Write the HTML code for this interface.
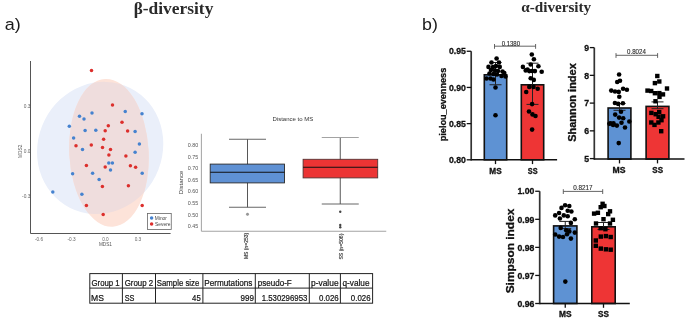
<!DOCTYPE html>
<html><head><meta charset="utf-8"><title>diversity figure</title>
<style>
html,body{margin:0;padding:0;background:#fff;width:685px;height:319px;overflow:hidden;}
svg{display:block;will-change:transform;filter:blur(0.3px);font-family:"Liberation Sans",sans-serif;}
</style></head><body>
<svg width="685" height="319" viewBox="0 0 685 319"><text x="4.76" y="30.20" font-size="17.20" text-anchor="start" fill="#1a1a1a" font-family="Liberation Sans" textLength="16.00" lengthAdjust="spacingAndGlyphs">a)</text>
<text x="422.08" y="29.80" font-size="17.20" text-anchor="start" fill="#1a1a1a" font-family="Liberation Sans" textLength="15.83" lengthAdjust="spacingAndGlyphs">b)</text>
<text x="133.66" y="13.50" font-size="17.70" text-anchor="start" fill="#2a2a2a" font-family="Liberation Serif" font-weight="bold" textLength="79.68" lengthAdjust="spacingAndGlyphs">β-diversity</text>
<text x="521.24" y="11.80" font-size="15.20" text-anchor="start" fill="#2a2a2a" font-family="Liberation Serif" font-weight="bold" textLength="69.98" lengthAdjust="spacingAndGlyphs">α-diversity</text>
<defs><clipPath id="cb"><ellipse cx="100.17" cy="147.97" rx="62.09" ry="67.11" transform="rotate(26.53 100.17 147.97)" fill="#000"/></clipPath></defs>
<ellipse cx="100.17" cy="147.97" rx="62.09" ry="67.11" transform="rotate(26.53 100.17 147.97)" fill="#eaeffa"/>
<ellipse cx="108.97" cy="152.86" rx="39.69" ry="74.04" transform="rotate(-3.01 108.97 152.86)" fill="#fde3d9"/>
<g clip-path="url(#cb)"><ellipse cx="108.97" cy="152.86" rx="39.69" ry="74.04" transform="rotate(-3.01 108.97 152.86)" fill="#efdddd"/></g>
<circle cx="91.5" cy="70.5" r="1.75" fill="#dc2f2c"/>
<circle cx="112.5" cy="105" r="1.75" fill="#dc2f2c"/>
<circle cx="92" cy="113" r="1.75" fill="#4582cf"/>
<circle cx="125.25" cy="111.5" r="1.75" fill="#4582cf"/>
<circle cx="142" cy="113.75" r="1.75" fill="#4582cf"/>
<circle cx="79.5" cy="116.2" r="1.75" fill="#4582cf"/>
<circle cx="84" cy="119" r="1.75" fill="#4582cf"/>
<circle cx="122" cy="122.2" r="1.75" fill="#dc2f2c"/>
<circle cx="108.3" cy="125.8" r="1.75" fill="#dc2f2c"/>
<circle cx="69.3" cy="126.3" r="1.75" fill="#4582cf"/>
<circle cx="85.1" cy="130.6" r="1.75" fill="#4582cf"/>
<circle cx="95.8" cy="130.3" r="1.75" fill="#4582cf"/>
<circle cx="105.2" cy="130.7" r="1.75" fill="#dc2f2c"/>
<circle cx="127.6" cy="131.1" r="1.75" fill="#dc2f2c"/>
<circle cx="135.1" cy="131.6" r="1.75" fill="#4582cf"/>
<circle cx="73.6" cy="138" r="1.75" fill="#4582cf"/>
<circle cx="103.6" cy="139.3" r="1.75" fill="#dc2f2c"/>
<circle cx="139.4" cy="144.1" r="1.75" fill="#4582cf"/>
<circle cx="76" cy="145.8" r="1.75" fill="#dc2f2c"/>
<circle cx="91.3" cy="145" r="1.75" fill="#dc2f2c"/>
<circle cx="102.5" cy="147.5" r="1.75" fill="#dc2f2c"/>
<circle cx="82.5" cy="149.4" r="1.75" fill="#4582cf"/>
<circle cx="110.5" cy="149.4" r="1.75" fill="#dc2f2c"/>
<circle cx="135.1" cy="152.3" r="1.75" fill="#4582cf"/>
<circle cx="108.9" cy="155.1" r="1.75" fill="#dc2f2c"/>
<circle cx="125.9" cy="155.9" r="1.75" fill="#dc2f2c"/>
<circle cx="108.8" cy="163.1" r="1.75" fill="#4582cf"/>
<circle cx="112.4" cy="163.1" r="1.75" fill="#4582cf"/>
<circle cx="86.4" cy="165.6" r="1.75" fill="#dc2f2c"/>
<circle cx="105.2" cy="167.1" r="1.75" fill="#dc2f2c"/>
<circle cx="130.4" cy="165.8" r="1.75" fill="#dc2f2c"/>
<circle cx="135.6" cy="167.2" r="1.75" fill="#dc2f2c"/>
<circle cx="110.5" cy="170.1" r="1.75" fill="#4582cf"/>
<circle cx="72.6" cy="173.8" r="1.75" fill="#4582cf"/>
<circle cx="92.6" cy="173.2" r="1.75" fill="#4582cf"/>
<circle cx="142.2" cy="173.2" r="1.75" fill="#4582cf"/>
<circle cx="99.1" cy="179.5" r="1.75" fill="#4582cf"/>
<circle cx="102.4" cy="186.4" r="1.75" fill="#dc2f2c"/>
<circle cx="128.4" cy="185.8" r="1.75" fill="#dc2f2c"/>
<circle cx="52.8" cy="192" r="1.75" fill="#4582cf"/>
<circle cx="81.9" cy="194.2" r="1.75" fill="#4582cf"/>
<circle cx="86.4" cy="205.5" r="1.75" fill="#dc2f2c"/>
<circle cx="142.2" cy="205.5" r="1.75" fill="#dc2f2c"/>
<circle cx="103.2" cy="214.6" r="1.75" fill="#dc2f2c"/>
<line x1="30.5" y1="61" x2="30.5" y2="233.5" stroke="#555" stroke-width="1"/>
<line x1="30.5" y1="233.5" x2="170.6" y2="233.5" stroke="#555" stroke-width="1"/>
<text x="30.40" y="107.95" font-size="4.80" text-anchor="end" fill="#666" font-family="Liberation Sans">0.3</text>
<text x="30.40" y="153.45" font-size="4.80" text-anchor="end" fill="#666" font-family="Liberation Sans">0.0</text>
<text x="30.40" y="198.45" font-size="4.80" text-anchor="end" fill="#666" font-family="Liberation Sans">-0.3</text>
<text x="39.00" y="240.50" font-size="4.70" text-anchor="middle" fill="#666" font-family="Liberation Sans">-0.6</text>
<text x="71.50" y="240.50" font-size="4.70" text-anchor="middle" fill="#666" font-family="Liberation Sans">-0.3</text>
<text x="105.40" y="240.50" font-size="4.70" text-anchor="middle" fill="#666" font-family="Liberation Sans">0.0</text>
<text x="137.90" y="240.50" font-size="4.70" text-anchor="middle" fill="#666" font-family="Liberation Sans">0.3</text>
<text x="105.40" y="246.20" font-size="4.70" text-anchor="middle" fill="#555" font-family="Liberation Sans">MDS1</text>
<text x="0" y="0" transform="translate(21.56 151.30) rotate(-90)" font-size="4.80" text-anchor="middle" fill="#555" font-family="Liberation Sans" textLength="13.21" lengthAdjust="spacingAndGlyphs">MDS2</text>
<rect x="147.5" y="213.4" width="23.75" height="16" fill="#fff" stroke="#666" stroke-width="0.8"/>
<circle cx="151.6" cy="218.1" r="1.75" fill="#4582cf"/>
<circle cx="151.6" cy="224" r="1.75" fill="#dc2f2c"/>
<text x="154.84" y="220.22" font-size="4.90" text-anchor="start" fill="#444" font-family="Liberation Sans" textLength="12.02" lengthAdjust="spacingAndGlyphs">Minor</text>
<text x="155.00" y="226.22" font-size="4.90" text-anchor="start" fill="#444" font-family="Liberation Sans" textLength="15.50" lengthAdjust="spacingAndGlyphs">Severe</text>
<text x="292.92" y="121.48" font-size="6.00" text-anchor="middle" fill="#333" font-family="Liberation Sans" textLength="40.78" lengthAdjust="spacingAndGlyphs">Distance to MS</text>
<line x1="201.4" y1="133.75" x2="201.4" y2="231.25" stroke="#999" stroke-width="0.9"/>
<line x1="201.4" y1="231.25" x2="386.25" y2="231.25" stroke="#999" stroke-width="0.9"/>
<text x="198.20" y="147.00" font-size="5.35" text-anchor="end" fill="#555" font-family="Liberation Sans">0.80</text>
<text x="198.20" y="158.60" font-size="5.35" text-anchor="end" fill="#555" font-family="Liberation Sans">0.75</text>
<text x="198.20" y="170.20" font-size="5.35" text-anchor="end" fill="#555" font-family="Liberation Sans">0.70</text>
<text x="198.20" y="181.80" font-size="5.35" text-anchor="end" fill="#555" font-family="Liberation Sans">0.65</text>
<text x="198.20" y="193.40" font-size="5.35" text-anchor="end" fill="#555" font-family="Liberation Sans">0.60</text>
<text x="198.20" y="205.00" font-size="5.35" text-anchor="end" fill="#555" font-family="Liberation Sans">0.55</text>
<text x="198.20" y="216.60" font-size="5.35" text-anchor="end" fill="#555" font-family="Liberation Sans">0.50</text>
<text x="198.20" y="228.20" font-size="5.35" text-anchor="end" fill="#555" font-family="Liberation Sans">0.45</text>
<text x="0" y="0" transform="translate(182.90 182.46) rotate(-90)" font-size="6.00" text-anchor="middle" fill="#444" font-family="Liberation Sans" textLength="23.62" lengthAdjust="spacingAndGlyphs">Distance</text>
<line x1="247.5" y1="139.25" x2="247.5" y2="207.25" stroke="#444" stroke-width="0.9"/>
<line x1="229" y1="139.25" x2="266" y2="139.25" stroke="#555" stroke-width="0.9"/>
<line x1="229" y1="207.25" x2="266" y2="207.25" stroke="#555" stroke-width="0.9"/>
<rect x="210.2" y="164.1" width="74.3" height="18.8" fill="#5f91d4" stroke="#2a2a2a" stroke-width="0.9"/>
<line x1="210.2" y1="172.3" x2="284.5" y2="172.3" stroke="#111" stroke-width="1.1"/>
<circle cx="247.5" cy="214.3" r="1.2" fill="#999" stroke="#777" stroke-width="0.4"/>
<line x1="340.25" y1="137.5" x2="340.25" y2="204" stroke="#444" stroke-width="0.9"/>
<line x1="321.75" y1="137.5" x2="358.75" y2="137.5" stroke="#999" stroke-width="0.9"/>
<line x1="321.75" y1="204" x2="358.75" y2="204" stroke="#555" stroke-width="0.9"/>
<rect x="303.1" y="159.3" width="74.6" height="18.6" fill="#ec3434" stroke="#553333" stroke-width="0.9"/>
<line x1="303.1" y1="167.2" x2="377.7" y2="167.2" stroke="#111" stroke-width="1.1"/>
<circle cx="340.25" cy="211.75" r="1.2" fill="#444"/>
<circle cx="340.25" cy="225" r="1.2" fill="#444"/>
<circle cx="340.25" cy="227.2" r="1.2" fill="#444"/>
<text x="0" y="0" transform="translate(247.56 259.04) rotate(-90)" font-size="4.60" text-anchor="start" fill="#333" font-family="Liberation Sans" textLength="26.27" lengthAdjust="spacingAndGlyphs" stroke="#333" stroke-width="0.15">MS (n=253)</text>
<text x="0" y="0" transform="translate(342.60 259.56) rotate(-90)" font-size="4.60" text-anchor="start" fill="#333" font-family="Liberation Sans" textLength="25.92" lengthAdjust="spacingAndGlyphs" stroke="#333" stroke-width="0.15">SS (n=506)</text>
<rect x="89.8" y="273.6" width="282.8" height="29.599999999999966" fill="#fff" stroke="#222" stroke-width="1"/>
<line x1="89.8" y1="288.1" x2="372.6" y2="288.1" stroke="#222" stroke-width="1"/>
<line x1="122.4" y1="273.6" x2="122.4" y2="303.2" stroke="#222" stroke-width="1"/>
<line x1="155.5" y1="273.6" x2="155.5" y2="303.2" stroke="#222" stroke-width="1"/>
<line x1="202.9" y1="273.6" x2="202.9" y2="303.2" stroke="#222" stroke-width="1"/>
<line x1="255.3" y1="273.6" x2="255.3" y2="303.2" stroke="#222" stroke-width="1"/>
<line x1="309.3" y1="273.6" x2="309.3" y2="303.2" stroke="#222" stroke-width="1"/>
<line x1="340.4" y1="273.6" x2="340.4" y2="303.2" stroke="#222" stroke-width="1"/>
<text x="91.50" y="285.80" font-size="8.40" text-anchor="start" fill="#111" font-family="Liberation Sans" textLength="28.21" lengthAdjust="spacingAndGlyphs" stroke="#111" stroke-width="0.2">Group 1</text>
<text x="124.66" y="285.80" font-size="8.40" text-anchor="start" fill="#111" font-family="Liberation Sans" textLength="28.44" lengthAdjust="spacingAndGlyphs" stroke="#111" stroke-width="0.2">Group 2</text>
<text x="156.80" y="285.80" font-size="8.40" text-anchor="start" fill="#111" font-family="Liberation Sans" textLength="42.45" lengthAdjust="spacingAndGlyphs" stroke="#111" stroke-width="0.2">Sample size</text>
<text x="204.28" y="285.80" font-size="8.40" text-anchor="start" fill="#111" font-family="Liberation Sans" textLength="48.13" lengthAdjust="spacingAndGlyphs" stroke="#111" stroke-width="0.2">Permutations</text>
<text x="257.86" y="285.80" font-size="8.40" text-anchor="start" fill="#111" font-family="Liberation Sans" textLength="33.90" lengthAdjust="spacingAndGlyphs" stroke="#111" stroke-width="0.2">pseudo-F</text>
<text x="310.98" y="285.80" font-size="8.40" text-anchor="start" fill="#111" font-family="Liberation Sans" textLength="27.61" lengthAdjust="spacingAndGlyphs" stroke="#111" stroke-width="0.2">p-value</text>
<text x="342.52" y="285.80" font-size="8.40" text-anchor="start" fill="#111" font-family="Liberation Sans" textLength="27.02" lengthAdjust="spacingAndGlyphs" stroke="#111" stroke-width="0.2">q-value</text>
<text x="91.14" y="300.80" font-size="8.40" text-anchor="start" fill="#111" font-family="Liberation Sans" textLength="12.87" lengthAdjust="spacingAndGlyphs" stroke="#111" stroke-width="0.2">MS</text>
<text x="124.74" y="300.80" font-size="8.40" text-anchor="start" fill="#111" font-family="Liberation Sans" textLength="9.76" lengthAdjust="spacingAndGlyphs" stroke="#111" stroke-width="0.2">SS</text>
<text x="192.10" y="300.80" font-size="8.40" text-anchor="start" fill="#111" font-family="Liberation Sans" textLength="8.62" lengthAdjust="spacingAndGlyphs" stroke="#111" stroke-width="0.2">45</text>
<text x="240.54" y="300.80" font-size="8.40" text-anchor="start" fill="#111" font-family="Liberation Sans" textLength="13.41" lengthAdjust="spacingAndGlyphs" stroke="#111" stroke-width="0.2">999</text>
<text x="261.72" y="300.80" font-size="8.40" text-anchor="start" fill="#111" font-family="Liberation Sans" textLength="45.64" lengthAdjust="spacingAndGlyphs" stroke="#111" stroke-width="0.2">1.530296953</text>
<text x="319.06" y="300.80" font-size="8.40" text-anchor="start" fill="#111" font-family="Liberation Sans" textLength="19.70" lengthAdjust="spacingAndGlyphs" stroke="#111" stroke-width="0.2">0.026</text>
<text x="350.86" y="300.80" font-size="8.40" text-anchor="start" fill="#111" font-family="Liberation Sans" textLength="19.72" lengthAdjust="spacingAndGlyphs" stroke="#111" stroke-width="0.2">0.026</text>
<rect x="484.3" y="74.8" width="22.4" height="85.00000000000001" fill="#5e92d3" stroke="#111" stroke-width="1.6"/>
<rect x="521.3" y="84.8" width="22.4" height="75.00000000000001" fill="#ee3535" stroke="#111" stroke-width="1.6"/>
<line x1="495.5" y1="62.5" x2="495.5" y2="84.75" stroke="#222" stroke-width="1"/>
<line x1="489.5" y1="62.5" x2="501.5" y2="62.5" stroke="#222" stroke-width="1"/>
<line x1="489.5" y1="84.75" x2="501.5" y2="84.75" stroke="#222" stroke-width="1"/>
<circle cx="496.6" cy="58.5" r="2.3" fill="#000"/>
<circle cx="491.5" cy="62.5" r="2.3" fill="#000"/>
<circle cx="499" cy="62.5" r="2.3" fill="#000"/>
<circle cx="488.5" cy="66.9" r="2.3" fill="#000"/>
<circle cx="499.75" cy="66.9" r="2.3" fill="#000"/>
<circle cx="493" cy="67" r="2.3" fill="#000"/>
<circle cx="496" cy="66" r="2.3" fill="#000"/>
<circle cx="491" cy="70" r="2.3" fill="#000"/>
<circle cx="495" cy="70.5" r="2.3" fill="#000"/>
<circle cx="498" cy="71" r="2.3" fill="#000"/>
<circle cx="502.5" cy="71.5" r="2.3" fill="#000"/>
<circle cx="489.5" cy="73.5" r="2.3" fill="#000"/>
<circle cx="493.5" cy="74" r="2.3" fill="#000"/>
<circle cx="497" cy="74.5" r="2.3" fill="#000"/>
<circle cx="504.3" cy="73" r="2.3" fill="#000"/>
<circle cx="486.5" cy="78.5" r="2.3" fill="#000"/>
<circle cx="490.5" cy="78.5" r="2.3" fill="#000"/>
<circle cx="493.5" cy="79.5" r="2.3" fill="#000"/>
<circle cx="501.5" cy="76" r="2.3" fill="#000"/>
<circle cx="505.5" cy="76.5" r="2.3" fill="#000"/>
<circle cx="495.5" cy="87.5" r="2.3" fill="#000"/>
<circle cx="495.5" cy="115.3" r="2.3" fill="#000"/>
<line x1="532.5" y1="63.2" x2="532.5" y2="104.4" stroke="#222" stroke-width="1"/>
<line x1="526.5" y1="63.2" x2="538.5" y2="63.2" stroke="#222" stroke-width="1"/>
<line x1="526.5" y1="104.4" x2="538.5" y2="104.4" stroke="#222" stroke-width="1"/>
<circle cx="531.8" cy="54.5" r="2.3" fill="#000"/>
<circle cx="533.9" cy="59.2" r="2.3" fill="#000"/>
<circle cx="530.7" cy="64.5" r="2.3" fill="#000"/>
<circle cx="522.9" cy="66.9" r="2.3" fill="#000"/>
<circle cx="538.4" cy="66.2" r="2.3" fill="#000"/>
<circle cx="525.7" cy="70.4" r="2.3" fill="#000"/>
<circle cx="529.3" cy="71.1" r="2.3" fill="#000"/>
<circle cx="534.9" cy="71.1" r="2.3" fill="#000"/>
<circle cx="541.7" cy="71.8" r="2.3" fill="#000"/>
<circle cx="527.5" cy="69.5" r="2.3" fill="#000"/>
<circle cx="532" cy="71" r="2.3" fill="#000"/>
<circle cx="530.7" cy="78.2" r="2.3" fill="#000"/>
<circle cx="533.8" cy="79.9" r="2.3" fill="#000"/>
<circle cx="529.3" cy="86.9" r="2.3" fill="#000"/>
<circle cx="533.5" cy="86.9" r="2.3" fill="#000"/>
<circle cx="537.7" cy="88.7" r="2.3" fill="#000"/>
<circle cx="526.2" cy="92" r="2.3" fill="#000"/>
<circle cx="532.1" cy="104.1" r="2.3" fill="#000"/>
<circle cx="529" cy="111.5" r="2.3" fill="#000"/>
<circle cx="532.5" cy="114.4" r="2.3" fill="#000"/>
<circle cx="535.5" cy="116" r="2.3" fill="#000"/>
<circle cx="532.1" cy="129.6" r="2.3" fill="#000"/>
<line x1="471.2" y1="51.25" x2="471.2" y2="160.55" stroke="#333" stroke-width="1.7"/>
<line x1="471.2" y1="159.8" x2="557.1" y2="159.8" stroke="#111" stroke-width="1.5"/>
<line x1="466.7" y1="51.260000000000076" x2="471.2" y2="51.260000000000076" stroke="#111" stroke-width="1.3"/>
<text x="465.90" y="54.46" font-size="8.70" text-anchor="end" fill="#111" font-family="Liberation Sans" font-weight="bold" stroke="#111" stroke-width="0.3">0.95</text>
<line x1="466.7" y1="87.44000000000003" x2="471.2" y2="87.44000000000003" stroke="#111" stroke-width="1.3"/>
<text x="465.90" y="90.64" font-size="8.70" text-anchor="end" fill="#111" font-family="Liberation Sans" font-weight="bold" stroke="#111" stroke-width="0.3">0.90</text>
<line x1="466.7" y1="123.62000000000006" x2="471.2" y2="123.62000000000006" stroke="#111" stroke-width="1.3"/>
<text x="465.90" y="126.82" font-size="8.70" text-anchor="end" fill="#111" font-family="Liberation Sans" font-weight="bold" stroke="#111" stroke-width="0.3">0.85</text>
<line x1="466.7" y1="159.8" x2="471.2" y2="159.8" stroke="#111" stroke-width="1.3"/>
<text x="465.90" y="163.00" font-size="8.70" text-anchor="end" fill="#111" font-family="Liberation Sans" font-weight="bold" stroke="#111" stroke-width="0.3">0.80</text>
<line x1="495.5" y1="159.8" x2="495.5" y2="164.10000000000002" stroke="#111" stroke-width="1.3"/>
<line x1="532.5" y1="159.8" x2="532.5" y2="164.10000000000002" stroke="#111" stroke-width="1.3"/>
<text x="495.50" y="173.72" font-size="8.20" text-anchor="middle" fill="#111" font-family="Liberation Sans" font-weight="bold" textLength="12.30" lengthAdjust="spacingAndGlyphs" stroke="#111" stroke-width="0.3">MS</text>
<text x="532.66" y="173.72" font-size="8.20" text-anchor="middle" fill="#111" font-family="Liberation Sans" font-weight="bold" textLength="9.77" lengthAdjust="spacingAndGlyphs" stroke="#111" stroke-width="0.3">SS</text>
<text x="0" y="0" transform="translate(445.88 104.54) rotate(-90)" font-size="9.20" text-anchor="middle" fill="#111" font-family="Liberation Sans" font-weight="bold" textLength="73.53" lengthAdjust="spacingAndGlyphs" stroke="#111" stroke-width="0.3">pielou_evenness</text>
<line x1="494.5" y1="46.2" x2="535.6" y2="46.2" stroke="#555" stroke-width="0.9"/>
<line x1="494.5" y1="44.0" x2="494.5" y2="48.800000000000004" stroke="#555" stroke-width="0.9"/>
<line x1="535.6" y1="44.0" x2="535.6" y2="48.800000000000004" stroke="#555" stroke-width="0.9"/>
<text x="510.86" y="45.76" font-size="6.40" text-anchor="middle" fill="#2a2a2a" font-family="Liberation Sans" textLength="18.32" lengthAdjust="spacingAndGlyphs" stroke="#2a2a2a" stroke-width="0.12">0.1380</text>
<rect x="608.0999999999999" y="108.0" width="22.80000000000009" height="51.099999999999994" fill="#5e92d3" stroke="#111" stroke-width="1.6"/>
<rect x="646.0999999999999" y="106.39999999999999" width="22.80000000000009" height="52.7" fill="#ee3535" stroke="#111" stroke-width="1.6"/>
<line x1="619.5" y1="103.5" x2="619.5" y2="110.3" stroke="#222" stroke-width="1"/>
<line x1="613.5" y1="103.5" x2="625.5" y2="103.5" stroke="#222" stroke-width="1"/>
<line x1="613.5" y1="110.3" x2="625.5" y2="110.3" stroke="#222" stroke-width="1"/>
<circle cx="619.1" cy="74.5" r="2.3" fill="#000"/>
<circle cx="617.2" cy="82" r="2.3" fill="#000"/>
<circle cx="620" cy="80.7" r="2.3" fill="#000"/>
<circle cx="611.25" cy="90.6" r="2.3" fill="#000"/>
<circle cx="615" cy="91.5" r="2.3" fill="#000"/>
<circle cx="618.75" cy="91.9" r="2.3" fill="#000"/>
<circle cx="623.1" cy="88.75" r="2.3" fill="#000"/>
<circle cx="626.9" cy="89.75" r="2.3" fill="#000"/>
<circle cx="619.3" cy="96.7" r="2.3" fill="#000"/>
<circle cx="614.9" cy="103" r="2.3" fill="#000"/>
<circle cx="618.2" cy="103.9" r="2.3" fill="#000"/>
<circle cx="622.9" cy="103.3" r="2.3" fill="#000"/>
<circle cx="621" cy="111.7" r="2.3" fill="#000"/>
<circle cx="615.2" cy="114.6" r="2.3" fill="#000"/>
<circle cx="619.1" cy="117.6" r="2.3" fill="#000"/>
<circle cx="623.2" cy="118.3" r="2.3" fill="#000"/>
<circle cx="629.3" cy="121.5" r="2.3" fill="#000"/>
<circle cx="621.5" cy="122.8" r="2.3" fill="#000"/>
<circle cx="610.6" cy="123.2" r="2.3" fill="#000"/>
<circle cx="613.5" cy="123.2" r="2.3" fill="#000"/>
<circle cx="609.4" cy="123.75" r="2.3" fill="#000"/>
<circle cx="613.1" cy="125" r="2.3" fill="#000"/>
<circle cx="616.9" cy="125.6" r="2.3" fill="#000"/>
<circle cx="625" cy="127.5" r="2.3" fill="#000"/>
<circle cx="618.75" cy="143.1" r="2.3" fill="#000"/>
<line x1="657.5" y1="101.9" x2="657.5" y2="108.7" stroke="#222" stroke-width="1"/>
<line x1="651.5" y1="101.9" x2="663.5" y2="101.9" stroke="#222" stroke-width="1"/>
<line x1="651.5" y1="108.7" x2="663.5" y2="108.7" stroke="#222" stroke-width="1"/>
<rect x="657.0999999999999" y="79.3" width="4.4" height="4.4" fill="#000"/>
<rect x="652.6999999999999" y="80.89999999999999" width="4.4" height="4.4" fill="#000"/>
<rect x="655.0999999999999" y="73.8" width="4.4" height="4.4" fill="#000"/>
<rect x="664.8" y="86.3" width="4.4" height="4.4" fill="#000"/>
<rect x="645.3" y="88.39999999999999" width="4.4" height="4.4" fill="#000"/>
<rect x="649.0" y="88.8" width="4.4" height="4.4" fill="#000"/>
<rect x="652.6999999999999" y="91.0" width="4.4" height="4.4" fill="#000"/>
<rect x="657.0999999999999" y="90.89999999999999" width="4.4" height="4.4" fill="#000"/>
<rect x="660.8" y="92.2" width="4.4" height="4.4" fill="#000"/>
<rect x="657.3" y="94.7" width="4.4" height="4.4" fill="#000"/>
<rect x="653.3" y="99.05" width="4.4" height="4.4" fill="#000"/>
<rect x="649.1999999999999" y="110.7" width="4.4" height="4.4" fill="#000"/>
<rect x="653.5" y="112.0" width="4.4" height="4.4" fill="#000"/>
<rect x="657.0" y="109.89999999999999" width="4.4" height="4.4" fill="#000"/>
<rect x="660.9" y="114.1" width="4.4" height="4.4" fill="#000"/>
<rect x="656.4" y="114.6" width="4.4" height="4.4" fill="#000"/>
<rect x="649.0999999999999" y="120.3" width="4.4" height="4.4" fill="#000"/>
<rect x="652.3" y="122.7" width="4.4" height="4.4" fill="#000"/>
<rect x="656.1999999999999" y="120.3" width="4.4" height="4.4" fill="#000"/>
<rect x="659.3" y="118.0" width="4.4" height="4.4" fill="#000"/>
<rect x="659.0" y="129.0" width="4.4" height="4.4" fill="#000"/>
<line x1="594.3" y1="47.599999999999994" x2="594.3" y2="159.85" stroke="#333" stroke-width="1.7"/>
<line x1="594.3" y1="159.1" x2="684.5" y2="159.1" stroke="#111" stroke-width="1.5"/>
<line x1="589.8" y1="47.599999999999994" x2="594.3" y2="47.599999999999994" stroke="#111" stroke-width="1.3"/>
<text x="589.00" y="50.80" font-size="8.70" text-anchor="end" fill="#111" font-family="Liberation Sans" font-weight="bold" stroke="#111" stroke-width="0.3">9</text>
<line x1="589.8" y1="75.35" x2="594.3" y2="75.35" stroke="#111" stroke-width="1.3"/>
<text x="589.00" y="78.55" font-size="8.70" text-anchor="end" fill="#111" font-family="Liberation Sans" font-weight="bold" stroke="#111" stroke-width="0.3">8</text>
<line x1="589.8" y1="103.1" x2="594.3" y2="103.1" stroke="#111" stroke-width="1.3"/>
<text x="589.00" y="106.30" font-size="8.70" text-anchor="end" fill="#111" font-family="Liberation Sans" font-weight="bold" stroke="#111" stroke-width="0.3">7</text>
<line x1="589.8" y1="130.85" x2="594.3" y2="130.85" stroke="#111" stroke-width="1.3"/>
<text x="589.00" y="134.05" font-size="8.70" text-anchor="end" fill="#111" font-family="Liberation Sans" font-weight="bold" stroke="#111" stroke-width="0.3">6</text>
<line x1="589.8" y1="158.6" x2="594.3" y2="158.6" stroke="#111" stroke-width="1.3"/>
<text x="589.00" y="161.80" font-size="8.70" text-anchor="end" fill="#111" font-family="Liberation Sans" font-weight="bold" stroke="#111" stroke-width="0.3">5</text>
<line x1="619.5" y1="159.1" x2="619.5" y2="163.4" stroke="#111" stroke-width="1.3"/>
<line x1="657.5" y1="159.1" x2="657.5" y2="163.4" stroke="#111" stroke-width="1.3"/>
<text x="619.02" y="173.20" font-size="8.20" text-anchor="middle" fill="#111" font-family="Liberation Sans" font-weight="bold" textLength="12.94" lengthAdjust="spacingAndGlyphs" stroke="#111" stroke-width="0.3">MS</text>
<text x="657.66" y="173.20" font-size="8.20" text-anchor="middle" fill="#111" font-family="Liberation Sans" font-weight="bold" textLength="10.71" lengthAdjust="spacingAndGlyphs" stroke="#111" stroke-width="0.3">SS</text>
<text x="0" y="0" transform="translate(575.88 102.54) rotate(-90)" font-size="10.90" text-anchor="middle" fill="#111" font-family="Liberation Sans" font-weight="bold" textLength="78.63" lengthAdjust="spacingAndGlyphs" stroke="#111" stroke-width="0.3">Shannon index</text>
<line x1="616" y1="55.3" x2="657.6" y2="55.3" stroke="#555" stroke-width="0.9"/>
<line x1="616" y1="53.099999999999994" x2="616" y2="57.9" stroke="#555" stroke-width="0.9"/>
<line x1="657.6" y1="53.099999999999994" x2="657.6" y2="57.9" stroke="#555" stroke-width="0.9"/>
<text x="636.44" y="54.24" font-size="6.40" text-anchor="middle" fill="#2a2a2a" font-family="Liberation Sans" textLength="18.79" lengthAdjust="spacingAndGlyphs" stroke="#2a2a2a" stroke-width="0.12">0.8024</text>
<rect x="553.5999999999999" y="225.9" width="23.30000000000009" height="77.60000000000001" fill="#5e92d3" stroke="#111" stroke-width="1.6"/>
<rect x="591.8" y="226.8" width="23.4" height="76.7" fill="#ee3535" stroke="#111" stroke-width="1.6"/>
<line x1="565.25" y1="221.4" x2="565.25" y2="228.6" stroke="#222" stroke-width="1"/>
<line x1="559.25" y1="221.4" x2="571.25" y2="221.4" stroke="#222" stroke-width="1"/>
<line x1="559.25" y1="228.6" x2="571.25" y2="228.6" stroke="#222" stroke-width="1"/>
<circle cx="565.1" cy="205.2" r="2.3" fill="#000"/>
<circle cx="569.3" cy="206" r="2.3" fill="#000"/>
<circle cx="561.5" cy="207.9" r="2.3" fill="#000"/>
<circle cx="567.7" cy="210.7" r="2.3" fill="#000"/>
<circle cx="571.4" cy="211.5" r="2.3" fill="#000"/>
<circle cx="559.1" cy="213" r="2.3" fill="#000"/>
<circle cx="555.2" cy="215.4" r="2.3" fill="#000"/>
<circle cx="563.8" cy="215.4" r="2.3" fill="#000"/>
<circle cx="567.7" cy="216.2" r="2.3" fill="#000"/>
<circle cx="559.9" cy="218.5" r="2.3" fill="#000"/>
<circle cx="574.8" cy="219.3" r="2.3" fill="#000"/>
<circle cx="570.9" cy="222.9" r="2.3" fill="#000"/>
<circle cx="560.7" cy="227.9" r="2.3" fill="#000"/>
<circle cx="566.2" cy="230.3" r="2.3" fill="#000"/>
<circle cx="569.3" cy="231.4" r="2.3" fill="#000"/>
<circle cx="574.8" cy="232.6" r="2.3" fill="#000"/>
<circle cx="555.2" cy="234.5" r="2.3" fill="#000"/>
<circle cx="559.1" cy="236.6" r="2.3" fill="#000"/>
<circle cx="563" cy="237" r="2.3" fill="#000"/>
<circle cx="567" cy="234.2" r="2.3" fill="#000"/>
<circle cx="570.9" cy="238.6" r="2.3" fill="#000"/>
<circle cx="565.3" cy="281.6" r="2.3" fill="#000"/>
<line x1="603.5" y1="222.5" x2="603.5" y2="229.5" stroke="#222" stroke-width="1"/>
<line x1="597.5" y1="222.5" x2="609.5" y2="222.5" stroke="#222" stroke-width="1"/>
<line x1="597.5" y1="229.5" x2="609.5" y2="229.5" stroke="#222" stroke-width="1"/>
<rect x="600.4" y="201.60000000000002" width="4.4" height="4.4" fill="#000"/>
<rect x="602.1999999999999" y="203.8" width="4.4" height="4.4" fill="#000"/>
<rect x="598.5" y="205.0" width="4.4" height="4.4" fill="#000"/>
<rect x="591.9" y="211.4" width="4.4" height="4.4" fill="#000"/>
<rect x="595.6999999999999" y="210.60000000000002" width="4.4" height="4.4" fill="#000"/>
<rect x="606.0" y="211.9" width="4.4" height="4.4" fill="#000"/>
<rect x="607.8" y="209.10000000000002" width="4.4" height="4.4" fill="#000"/>
<rect x="601.3" y="217.0" width="4.4" height="4.4" fill="#000"/>
<rect x="610.6999999999999" y="217.60000000000002" width="4.4" height="4.4" fill="#000"/>
<rect x="593.8" y="221.3" width="4.4" height="4.4" fill="#000"/>
<rect x="607.8" y="221.3" width="4.4" height="4.4" fill="#000"/>
<rect x="598.5" y="226.0" width="4.4" height="4.4" fill="#000"/>
<rect x="603.1999999999999" y="227.0" width="4.4" height="4.4" fill="#000"/>
<rect x="598.5999999999999" y="234.4" width="4.4" height="4.4" fill="#000"/>
<rect x="603.6999999999999" y="233.9" width="4.4" height="4.4" fill="#000"/>
<rect x="608.5" y="234.8" width="4.4" height="4.4" fill="#000"/>
<rect x="593.5999999999999" y="238.3" width="4.4" height="4.4" fill="#000"/>
<rect x="593.5999999999999" y="243.60000000000002" width="4.4" height="4.4" fill="#000"/>
<rect x="598.5999999999999" y="246.4" width="4.4" height="4.4" fill="#000"/>
<rect x="603.6999999999999" y="247.10000000000002" width="4.4" height="4.4" fill="#000"/>
<rect x="608.5" y="247.5" width="4.4" height="4.4" fill="#000"/>
<line x1="539.7" y1="191.2599999999999" x2="539.7" y2="304.25" stroke="#333" stroke-width="1.7"/>
<line x1="539.7" y1="303.5" x2="629.8" y2="303.5" stroke="#111" stroke-width="1.5"/>
<line x1="535.2" y1="191.2599999999999" x2="539.7" y2="191.2599999999999" stroke="#111" stroke-width="1.3"/>
<text x="534.40" y="194.46" font-size="8.70" text-anchor="end" fill="#111" font-family="Liberation Sans" font-weight="bold" stroke="#111" stroke-width="0.3">1.00</text>
<line x1="535.2" y1="219.31999999999994" x2="539.7" y2="219.31999999999994" stroke="#111" stroke-width="1.3"/>
<text x="534.40" y="222.52" font-size="8.70" text-anchor="end" fill="#111" font-family="Liberation Sans" font-weight="bold" stroke="#111" stroke-width="0.3">0.99</text>
<line x1="535.2" y1="247.37999999999994" x2="539.7" y2="247.37999999999994" stroke="#111" stroke-width="1.3"/>
<text x="534.40" y="250.58" font-size="8.70" text-anchor="end" fill="#111" font-family="Liberation Sans" font-weight="bold" stroke="#111" stroke-width="0.3">0.98</text>
<line x1="535.2" y1="275.44" x2="539.7" y2="275.44" stroke="#111" stroke-width="1.3"/>
<text x="534.40" y="278.64" font-size="8.70" text-anchor="end" fill="#111" font-family="Liberation Sans" font-weight="bold" stroke="#111" stroke-width="0.3">0.97</text>
<line x1="535.2" y1="303.5" x2="539.7" y2="303.5" stroke="#111" stroke-width="1.3"/>
<text x="534.40" y="306.70" font-size="8.70" text-anchor="end" fill="#111" font-family="Liberation Sans" font-weight="bold" stroke="#111" stroke-width="0.3">0.96</text>
<line x1="565.25" y1="303.5" x2="565.25" y2="307.8" stroke="#111" stroke-width="1.3"/>
<line x1="603.5" y1="303.5" x2="603.5" y2="307.8" stroke="#111" stroke-width="1.3"/>
<text x="565.25" y="316.82" font-size="8.20" text-anchor="middle" fill="#111" font-family="Liberation Sans" font-weight="bold" textLength="12.53" lengthAdjust="spacingAndGlyphs" stroke="#111" stroke-width="0.3">MS</text>
<text x="603.42" y="316.82" font-size="8.20" text-anchor="middle" fill="#111" font-family="Liberation Sans" font-weight="bold" textLength="10.90" lengthAdjust="spacingAndGlyphs" stroke="#111" stroke-width="0.3">SS</text>
<text x="0" y="0" transform="translate(514.30 250.98) rotate(-90)" font-size="11.80" text-anchor="middle" fill="#111" font-family="Liberation Sans" font-weight="bold" textLength="84.75" lengthAdjust="spacingAndGlyphs" stroke="#111" stroke-width="0.3">Simpson index</text>
<line x1="563.3" y1="191.4" x2="602.7" y2="191.4" stroke="#555" stroke-width="0.9"/>
<line x1="563.3" y1="189.20000000000002" x2="563.3" y2="194.0" stroke="#555" stroke-width="0.9"/>
<line x1="602.7" y1="189.20000000000002" x2="602.7" y2="194.0" stroke="#555" stroke-width="0.9"/>
<text x="582.92" y="189.96" font-size="6.40" text-anchor="middle" fill="#2a2a2a" font-family="Liberation Sans" textLength="19.42" lengthAdjust="spacingAndGlyphs" stroke="#2a2a2a" stroke-width="0.12">0.8217</text></svg>
</body></html>
